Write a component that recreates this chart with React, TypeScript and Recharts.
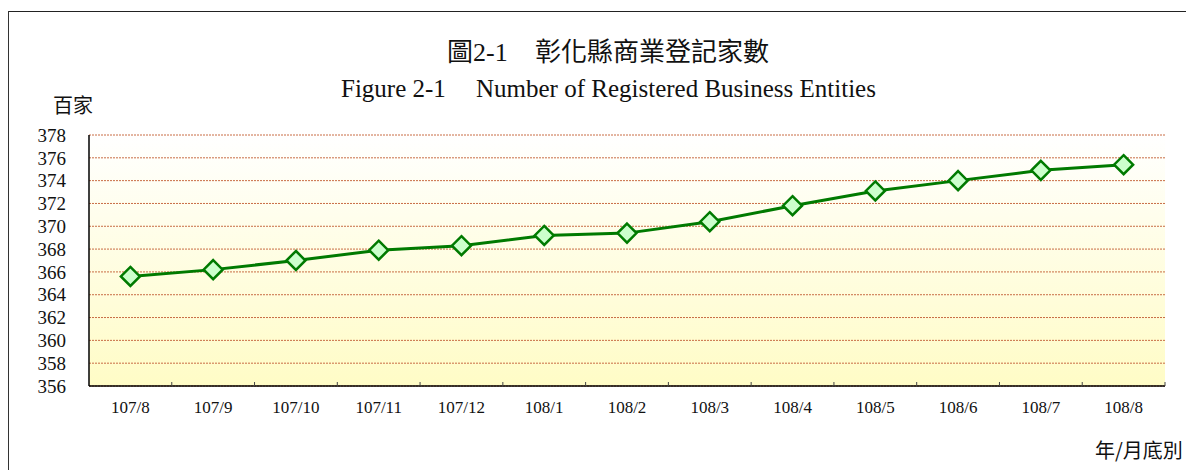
import React from "react";
import { LineChart, Line, XAxis, YAxis, CartesianGrid } from "recharts";

const categories = ["107/8", "107/9", "107/10", "107/11", "107/12", "108/1", "108/2", "108/3", "108/4", "108/5", "108/6", "108/7", "108/8"];
const values = [365.6, 366.2, 367.0, 367.9, 368.3, 369.2, 369.4, 370.4, 371.8, 373.1, 374.0, 374.9, 375.4];
const yTicks = [356, 358, 360, 362, 364, 366, 368, 370, 372, 374, 376, 378];

const data = categories.map((c, i) => ({ name: c, value: values[i] }));

const W = 1186;
const H = 462;
const M = { top: 127, right: 29, bottom: 54, left: 0 };
const Y_W = 81;
const PLOT_W = W - M.left - M.right - Y_W;
const BW = PLOT_W / categories.length;

const SERIF = "'Liberation Serif', 'Times New Roman', serif";
const CJK = "'Liberation Serif', 'Noto Sans CJK TC', serif";

const XTick = (props: any) => {
  const { x, y, payload, index } = props;
  const last = index === categories.length - 1;
  return (
    <g>
      {index > 0 && <line x1={x - BW / 2} x2={x - BW / 2} y1={y} y2={y - 4} stroke="#444" strokeWidth={1} />}
      {last && <line x1={x + BW / 2} x2={x + BW / 2} y1={y} y2={y - 4} stroke="#444" strokeWidth={1} />}
      <text x={x} y={y + 21} textAnchor="middle" dominantBaseline="central" fontFamily={SERIF} fontSize={17} fill="#111">
        {payload.value}
      </text>
    </g>
  );
};

const Diamond = (props: any) => {
  const { cx, cy } = props;
  if (cx == null || cy == null) return null;
  const r = 9.5;
  return (
    <path
      d={`M${cx},${cy - r} L${cx + r},${cy} L${cx},${cy + r} L${cx - r},${cy} Z`}
      fill="#ccffcc"
      stroke="#007a00"
      strokeWidth={2.5}
    />
  );
};

export default function App() {
  return (
    <div style={{ position: "relative", width: W, height: H, background: "#fff" }}>
      <div style={{ position: "absolute", left: 0, top: 3, width: 1186, height: 1, background: "#222" }} />
      <div style={{ position: "absolute", left: 0, top: 3, width: 1, height: 459, background: "#333" }} />
      <div style={{ position: "absolute", left: 439, top: 32, fontFamily: CJK, fontSize: 26, lineHeight: "26px", color: "#111", whiteSpace: "pre" }}>
        圖2-1
      </div>
      <div style={{ position: "absolute", left: 527, top: 32, fontFamily: CJK, fontSize: 26, lineHeight: "26px", color: "#111", whiteSpace: "pre" }}>
        彰化縣商業登記家數
      </div>
      <div style={{ position: "absolute", left: 333, top: 68, fontFamily: SERIF, fontSize: 25, lineHeight: "25px", color: "#111", whiteSpace: "pre" }}>
        Figure 2-1
      </div>
      <div style={{ position: "absolute", left: 468, top: 68, fontFamily: SERIF, fontSize: 25, lineHeight: "25px", color: "#111", whiteSpace: "pre" }}>
        Number of Registered Business Entities
      </div>
      <div style={{ position: "absolute", left: 45, top: 87, fontFamily: "'Noto Sans CJK TC', sans-serif", fontSize: 20, lineHeight: "20px", color: "#111" }}>
        百家
      </div>
      <div style={{ position: "absolute", left: 1087, top: 432, fontFamily: "'Noto Sans CJK TC', sans-serif", fontSize: 20, lineHeight: "20px", color: "#111", whiteSpace: "pre" }}>
        年/月底別
      </div>
      <div style={{ position: "absolute", left: 0, top: 0 }}>
        <LineChart width={W} height={H} data={data} margin={M}>
          <defs>
            <linearGradient id="bgGrad" x1="0" y1="0" x2="0" y2="1">
              <stop offset="0%" stopColor="#ffffff" />
              <stop offset="100%" stopColor="#fffcc6" />
            </linearGradient>
          </defs>
          <CartesianGrid
            vertical={false}
            horizontal={true}
            fill="url(#bgGrad)"
            fillOpacity={1}
            stroke="#c86c44"
            strokeDasharray="2 1"
            strokeWidth={1}
          />
          <XAxis
            dataKey="name"
            height={30}
            padding={{ left: BW / 2, right: BW / 2 }}
            axisLine={{ stroke: "#000", strokeWidth: 1.5 }}
            tickLine={false}
            tickSize={0}
            tickMargin={0}
            interval={0}
            tick={<XTick />}
          />
          <YAxis
            width={Y_W}
            domain={[356, 378]}
            ticks={yTicks}
            interval={0}
            axisLine={{ stroke: "#000", strokeWidth: 1.5 }}
            tickLine={false}
            tickSize={0}
            tickMargin={23}
            tick={{ fontFamily: SERIF, fontSize: 19, fill: "#111" }}
          />
          <Line
            type="linear"
            dataKey="value"
            stroke="#007a00"
            strokeWidth={3}
            dot={<Diamond />}
            activeDot={false}
            isAnimationActive={false}
          />
        </LineChart>
      </div>
    </div>
  );
}
